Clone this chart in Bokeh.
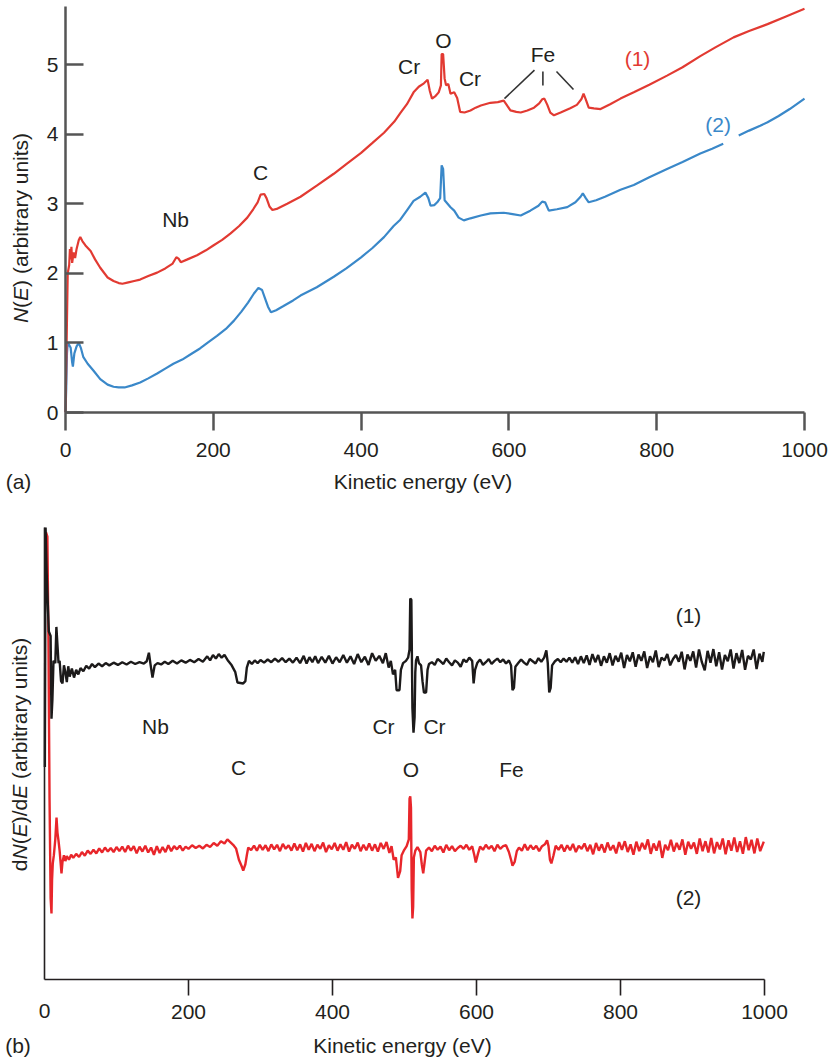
import numpy as np
from bokeh.plotting import figure
from bokeh.models import Range1d, FixedTicker, Label, LinearAxis
from bokeh.embed import file_html
from bokeh.resources import INLINE

# ---------------- data: panel (a) N(E) spectra ----------------
spec1_points = [(0,0.0),(1.5,1.0),(3,2.0),(5,2.12),(6,2.35),(7,2.2),(8,2.38),(9,2.15),(11,2.3),(13,2.22),
    (15,2.35),(18,2.48),(20,2.52),(23,2.46),(27,2.4),(34,2.32),(40,2.2),(47,2.08),(57,1.94),(65,1.89),
    (72,1.86),(77,1.85),(85,1.87),(93,1.89),(101,1.91),(112,1.96),(124,2.01),(135,2.07),(145,2.14),(150,2.23),
    (153,2.21),(156,2.16),(165,2.2),(178,2.26),(190,2.33),(200,2.4),(212,2.48),(223,2.57),(235,2.68),(246,2.8),
    (254,2.92),(260,3.02),(264,3.13),(269,3.14),(272,3.08),(276,2.96),(280,2.91),(287,2.93),(300,3.0),(318,3.1),
    (340,3.26),(363,3.43),(380,3.57),(400,3.73),(415,3.87),(431,4.02),(445,4.18),(453,4.3),(462,4.43),(471,4.6),
    (478,4.68),(485,4.73),(490,4.78),(493,4.62),(496,4.51),(501,4.55),(505,4.6),(508,4.7),(509,5.15),(511,5.15),
    (513,4.8),(515,4.7),(518,4.72),(521,4.58),(526,4.6),(530,4.52),(534,4.32),(540,4.31),(548,4.34),(555,4.38),
    (562,4.41),(575,4.45),(585,4.46),(593,4.48),(597,4.42),(602,4.34),(610,4.32),(616,4.31),(625,4.34),(634,4.38),
    (641,4.44),(645,4.5),(648,4.51),(652,4.42),(656,4.31),(661,4.27),(670,4.31),(683,4.37),(692,4.42),(698,4.5),
    (701,4.58),(704,4.5),(708,4.38),(715,4.37),(724,4.36),(737,4.43),(751,4.51),(769,4.6),(790,4.71),(814,4.84),
    (835,4.96),(859,5.12),(880,5.25),(904,5.39),(925,5.48),(950,5.58),(975,5.69),(1000,5.8)]

spec2_points = [(0,0.0),(1,0.35),(2,0.85),(3,1.0),(5,0.97),(7,0.93),(9,0.72),(10,0.66),(12,0.85),(15,0.95),
    (18,1.0),(21,0.92),(24,0.8),(30,0.7),(38,0.6),(47,0.48),(57,0.4),(65,0.37),(72,0.36),(80,0.36),
    (90,0.39),(101,0.43),(112,0.49),(124,0.56),(135,0.63),(146,0.7),(158,0.76),(170,0.84),(182,0.92),(192,1.0),
    (205,1.1),(217,1.2),(228,1.32),(238,1.45),(247,1.58),(255,1.71),(261,1.79),(266,1.76),(270,1.64),(274,1.52),
    (278,1.44),(285,1.47),(295,1.53),(308,1.61),(318,1.68),(340,1.8),(363,1.95),(380,2.07),(400,2.23),(415,2.36),
    (431,2.52),(444,2.68),(453,2.77),(463,2.92),(471,3.04),(480,3.1),(487,3.16),(491,3.08),(494,2.97),(499,2.98),
    (503,3.02),(507,3.08),(509,3.55),(511,3.5),(513,3.05),(517,3.0),(521,2.95),(526,2.9),(532,2.8),(539,2.76),
    (548,2.79),(562,2.83),(575,2.86),(593,2.87),(605,2.85),(616,2.83),(629,2.9),(640,2.97),(645,3.03),(649,3.02),
    (654,2.9),(665,2.92),(679,2.95),(690,3.02),(697,3.1),(700,3.15),(704,3.08),(708,3.02),(718,3.05),(730,3.1),
    (751,3.2),(769,3.27),(790,3.38),(814,3.5),(835,3.6),(859,3.72),(875,3.79),(890,3.86),(900,float("nan")),
    (911,3.98),(925,4.05),(940,4.12),(950,4.17),(965,4.26),(980,4.36),(1000,4.51)]

# ---------------- data: panel (b) dN(E)/dE spectra (arbitrary units) ----------------
deriv1_points = [(0.5,47),(1.5,100),(3,90),(6,77),(8.5,76),(9.7,57.7),(11,62),(12.5,70.5),(15,70),(16.5,78),
    (18,74),(19.5,70),(21,70.5),(23,66),(25,65.5),(27,69.5),(29,68),(31,65.8),(33,69.3),(35,67),(38,68.8),
    (41,66.8),(44,68.5),(47,67.5),(50,68.9),(54,68.2),(58,69.4),(62,68.8),(66,69.8),(70,69.1),(75,69.9),(80,69.3),
    (85,70),(90,69.5),(96,70.1),(102,69.6),(108,70.2),(114,69.7),(120,70.3),(126,69.8),(132,70.2),(138,69.9),
    (142,70.4),(145,72.3),(147,70),(150,66.8),(153,69.5),(157,70),(162,69.7),(167,70.3),(172,69.8),(178,70.5),
    (184,69.9),(190,70.6),(196,70.1),(202,70.7),(208,70.2),(214,70.9),(220,70.3),(226,71.5),(230,70.6),(234,71.8),
    (238,71),(242,72),(246,71.2),(250,71.8),(255,70.5),(260,69.5),(265,68),(268,65.7),(272,65.6),(276,65.5),
    (279,66),(281,69),(284,70.5),(288,69.8),(292,70.6),(296,70),(300,70.7),(305,70.1),(310,70.8),(315,70.2),
    (320,71),(325,70.3),(330,71.1),(335,70.2),(340,71),(345,70.1),(350,71.2),(355,70),(360,71.6),(364,69.9),
    (368,71.3),(372,70.2),(376,71.5),(380,70),(385,71.4),(390,70.1),(395,71.6),(400,69.9),(405,71.3),(410,70.2),
    (415,71.8),(420,70.1),(425,71.5),(430,69.8),(435,72),(440,70.2),(445,71.4),(450,69.6),(455,72.2),(460,70.5),
    (465,71.6),(470,70),(474,72.2),(478,69),(481,70.5),(484,67.5),(487,68.5),(489,64),(493,64),(495,68.5),
    (498,70),(502,70.5),(505,71.2),(507,73),(508,84.3),(509.5,84),(511,60),(512.5,54.6),(514,58),(515,68),
    (516,70.6),(518,71.5),(520,70),(523,69.5),(525,66),(527,63.5),(530,63.5),(532,68.5),(534,69.8),(538,70.2),
    (542,69.6),(546,70.9),(550,70.4),(554,69.8),(558,71),(562,70.2),(566,69.5),(570,70.6),(574,70.1),(578,69.2),
    (582,70.8),(586,70.2),(590,71.2),(594,70.5),(596,65.5),(598,68.5),(601,70),(605,70.8),(609,69.6),(613,70.2),
    (617,70.9),(621,69.8),(625,70.5),(629,71),(633,70.2),(637,70.8),(641,69.9),(645,70.6),(648,69.5),(650,64),
    (652,64.5),(654,69.2),(658,70),(662,70.8),(666,70.1),(670,69.6),(674,70.9),(678,70.4),(682,69.9),(686,71.1),
    (690,70.3),(694,71.2),(697,72.8),(699,70),(701,63.5),(703,64.5),(705,69.5),(709,70.4),(713,70.9),(717,70.2),
    (721,71),(725,70.3),(729,71.2),(733,70.1),(737,71.3),(741,69.8),(745,71.5),(749,70),(753,71.7),(757,69.6),
    (761,72),(765,70.2),(769,71.8),(773,69.4),(777,71.5),(781,70.1),(785,72.2),(789,69.5),(793,71.6),(797,70.3),
    (801,72.3),(805,68.9),(809,71.8),(813,70.4),(817,72.4),(821,69.2),(825,71.9),(829,70.5),(833,72.6),(837,68.9),
    (841,71.5),(845,70.2),(849,72.8),(853,69.1),(857,71.2),(861,70.6),(865,72),(869,69.5),(873,70.9),(877,71.8),
    (881,70.3),(885,72.5),(889,68.6),(893,71.9),(897,70.5),(901,72.6),(905,69),(909,73),(913,70.2),(917,68.4),
    (921,72.7),(925,70.1),(929,73.1),(933,69.3),(937,72.4),(941,68.6),(945,71.8),(949,70.4),(953,73),(957,68.8),
    (961,72.2),(965,70),(969,72.9),(973,68.5),(977,71.6),(981,70.8),(985,73),(989,68.7),(993,72.1),(997,70.3),
    (999,72.5)]

deriv2_points = [(2,99),(4,98),(5.5,75),(7,40),(8.5,18),(9.7,14.6),(10.5,22),(11.5,25.7),(13,27.5),(15,31),
    (16.7,35.8),(18,32.5),(19.4,30.8),(21,28.5),(23.6,23.5),(25,26),(27,27.5),(29,26.2),(31,27.3),(34,26.5),
    (37,27.6),(40,26.9),(44,27.8),(48,27.1),(52,28.2),(56,27.4),(60,28.5),(64,27.8),(68,28.7),(72,27.9),(76,29),
    (80,28.1),(84,29.2),(88,28.3),(92,29.1),(96,28.2),(100,29.3),(104,28.4),(108,29.4),(112,28.2),(116,29.6),
    (120,28.5),(124,29.5),(128,27.9),(132,29.4),(136,28.3),(140,29.6),(144,28.1),(148,29.2),(152,27.6),(156,29.5),
    (160,28),(164,29.3),(168,28.2),(172,29.7),(176,28.4),(180,29.5),(184,28.8),(188,29.6),(192,28.5),(196,29.4),
    (200,28.9),(205,29.7),(210,29.1),(215,29.6),(220,29),(225,29.8),(230,29.3),(235,30.2),(240,29.6),(245,30.6),
    (250,30.1),(254,31),(258,30.4),(262,29.8),(266,29),(270,26.5),(274,25),(276,24.1),(279,25.5),(281,27.5),
    (283,29.2),(287,28.6),(291,29.6),(295,28.5),(299,29.8),(303,28.7),(307,29.7),(311,28.4),(315,29.9),(319,28.8),
    (323,29.8),(327,28.4),(331,30),(335,28.9),(339,29.7),(343,28.5),(347,30.1),(351,28.6),(355,29.9),(359,28.3),
    (363,30.2),(367,28.7),(371,30),(375,28.4),(379,29.8),(383,28.9),(387,30.3),(391,28.2),(395,29.7),(399,28.8),
    (403,30.2),(407,28.5),(411,29.9),(415,28.7),(419,30.4),(423,28.3),(427,29.8),(431,28.9),(435,30.3),(439,28.4),
    (443,29.8),(447,28.6),(451,30.1),(455,28.5),(459,29.9),(463,28.3),(467,30.2),(471,28.9),(475,30.4),(479,28),
    (482,29.5),(485,26.5),(488,27),(491,22.5),(494,24),(496,27.5),(499,28.5),(503,29.5),(506,31),(507,40),
    (508,40.5),(509,38),(510,20),(511,13.5),(512,16),(513,27),(515,28.5),(518,29.3),(522,28.2),(524,25.5),
    (526,23.5),(528,26),(530,28.5),(534,29.2),(538,28.4),(542,29.6),(546,28.7),(550,29.4),(554,28.1),(558,29.8),
    (562,28.6),(566,29.5),(570,28.4),(574,29.1),(578,29.6),(582,28.9),(586,29.8),(590,28.7),(594,29.5),(597,27.5),
    (599,25.9),(602,27.8),(605,29.4),(609,28.7),(613,29.8),(617,28.9),(621,29.6),(625,28.4),(629,29.8),(633,28.9),
    (637,29.5),(641,29.7),(645,28.2),(648,26.5),(650,25.2),(653,26),(656,28.4),(659,29.2),(663,28.5),(667,29.9),
    (671,28.6),(675,29.7),(679,28.8),(683,29.6),(687,28.4),(691,29.5),(695,29.9),(698,30.8),(700,29.5),(702,26.5),
    (704,25.7),(707,27.5),(710,29.6),(714,28.7),(718,29.8),(722,28.3),(726,29.7),(730,28.6),(734,30),(738,28.2),
    (742,29.6),(746,28.9),(750,30.1),(754,28.4),(758,29.8),(762,27.7),(766,30.2),(770,28.5),(774,29.9),(778,28.1),
    (782,30.3),(786,28.6),(790,29.7),(794,27.9),(798,30.4),(802,28.7),(806,30.6),(810,28.2),(814,29.9),(818,27.6),
    (822,30.5),(826,28.4),(830,30.2),(834,28.8),(838,31),(842,27.8),(846,30.1),(850,28.5),(854,30.7),(858,26.9),
    (862,29.8),(866,28.6),(870,30.9),(874,28.3),(878,30.2),(882,28.7),(886,31),(890,27.6),(894,30.5),(898,28.9),
    (902,30.3),(906,27.8),(910,31.2),(914,28.4),(918,30.6),(922,28.1),(926,31.3),(930,27.9),(934,30.4),(938,28.8),
    (942,31.2),(946,27.7),(950,30.8),(954,28.5),(958,31.4),(962,28.2),(966,30.6),(970,27.8),(974,31.5),(978,28.6),
    (982,30.9),(986,27.9),(990,31.2),(994,28.4),(999,30.5)]

x_ticks = [0, 200, 400, 600, 800, 1000]
y_ticks_a = [0, 1, 2, 3, 4, 5]

# element annotations (text, energy, value)
labels_a = [("Nb", 149, 2.77), ("C", 264, 3.45), ("Cr", 465, 4.97), ("O", 511.5, 5.34),
            ("Cr", 547.4, 4.80), ("Fe", 646, 5.15)]
fe_leaders = [((634.6, 4.92), (594.0, 4.51)), ((646.0, 4.90), (646.0, 4.70)), ((664.4, 4.90), (687.4, 4.64))]
labels_b = [("Nb", 154.2, 56.0), ("C", 269.4, 46.9), ("Cr", 470.8, 56.0), ("Cr", 541.7, 56.0),
            ("O", 509, 46.5), ("Fe", 648.6, 46.5)]

FONT = "Liberation Sans"
FS = "21px"
TXT = "#231f20"
RED_A = "#e23a32"
BLUE_A = "#3a88c9"
RED_B = "#e8262b"
BLACK_B = "#1c1a1a"

W, H = 833, 1060
# page-pixel <-> data mappings of the two panels
ax_px = lambda px: (px - 65) / 0.739
ay_px = lambda py: (412 - py) / 69.6
bx_px = lambda px: (px - 44) / 0.72
by_px = lambda py: (979 - py) / 4.52

# Arial/Liberation Sans advance widths (per 1000 em) for placing mixed-style pieces
CW = {"N": 722, "E": 667, "(": 333, ")": 333, " ": 278, "a": 556, "r": 333, "b": 556, "i": 222,
      "t": 278, "y": 500, "u": 556, "n": 556, "s": 500, "d": 556, "/": 278}
def text_w(s, px=21.0):
    return sum(CW[c] for c in s) * px / 1000.0

def unzip(points):
    return np.array([p[0] for p in points], float), np.array([p[1] for p in points], float)

p = figure(width=W, height=H, output_backend="svg", toolbar_location=None,
           x_range=Range1d(ax_px(0), ax_px(W)), y_range=Range1d(ay_px(H), ay_px(0)),
           x_axis_location=None, y_axis_location=None,
           min_border=0, min_border_left=0, min_border_right=0, min_border_top=0, min_border_bottom=0)
p.extra_x_ranges = {"b": Range1d(bx_px(0), bx_px(W))}
p.extra_y_ranges = {"b": Range1d(by_px(H), by_px(0))}
p.outline_line_color = None
p.grid.visible = False
p.background_fill_color = "white"
p.border_fill_color = "white"

def add_label(x, y, text, color=TXT, style="normal", angle=0.0, align="center", baseline="middle", rn="default"):
    p.add_layout(Label(x=x, y=y, text=text, text_font=FONT, text_font_size=FS, text_color=color,
                       text_font_style=style, angle=angle, text_align=align, text_baseline=baseline,
                       x_range_name=rn, y_range_name=rn))

def rotated_title(pieces, x, center_py, to_y, rn):
    # pieces placed one after another, reading bottom to top
    sy = center_py + sum(text_w(s) for s, _ in pieces) / 2
    for s, st in pieces:
        lead = len(s) - len(s.lstrip(" "))
        sy -= text_w(" " * lead)
        body = s.strip(" ")
        add_label(x, to_y(sy), body, style=st, angle=np.pi / 2, align="left", rn=rn)
        sy -= text_w(body)

def style_axis(ax, color, width):
    ax.axis_line_color = color
    ax.axis_line_width = width
    ax.major_tick_line_color = color
    ax.major_tick_line_width = width
    ax.minor_tick_line_color = None
    ax.minor_tick_out = 0
    ax.minor_tick_in = 0
    ax.major_label_text_font = FONT
    ax.major_label_text_font_size = FS
    ax.major_label_text_color = TXT

# ---------------- panel (a) axes ----------------
xa = LinearAxis(fixed_location=0, bounds=(0, 1000), ticker=FixedTicker(ticks=x_ticks))
style_axis(xa, "#555555", 2.5)
xa.major_tick_out = 18
xa.major_tick_in = 0
xa.major_label_standoff = 12
p.add_layout(xa, "below")

ya = LinearAxis(fixed_location=0, bounds=(0, ay_px(6)), ticker=FixedTicker(ticks=y_ticks_a))
style_axis(ya, "#555555", 2.5)
ya.major_tick_out = 0
ya.major_tick_in = 18
ya.major_label_standoff = 7
p.add_layout(ya, "left")

# ---------------- panel (a) curves ----------------
e1, n1 = unzip(spec1_points)
e2, n2 = unzip(spec2_points)
p.line(e2, n2, line_color=BLUE_A, line_width=2.2)
p.line(e1, n1, line_color=RED_A, line_width=2.2)

for t, x, y in labels_a:
    add_label(x, y, t)
p.segment(x0=[s[0][0] for s in fe_leaders], y0=[s[0][1] for s in fe_leaders],
          x1=[s[1][0] for s in fe_leaders], y1=[s[1][1] for s in fe_leaders],
          line_color="#333333", line_width=1.6)
add_label(774, 5.09, "(1)", color=RED_A)
add_label(883, 4.14, "(2)", color=BLUE_A)

add_label(ax_px(422.5), ay_px(480.5), "Kinetic energy (eV)")
add_label(ax_px(18), ay_px(481), "(a)")
rotated_title([("N", "italic"), ("(", "normal"), ("E", "italic"), (") (arbitrary units)", "normal")],
              ax_px(20), 227.5, ay_px, "default")

# ---------------- panel (b) axes ----------------
xb = LinearAxis(x_range_name="b", y_range_name="b", fixed_location=0, bounds=(0, 1000),
                ticker=FixedTicker(ticks=x_ticks[1:]))
style_axis(xb, "#231f20", 1.6)
xb.major_tick_out = 16
xb.major_tick_in = 0
xb.major_label_standoff = 9
p.add_layout(xb, "below")

yb = LinearAxis(x_range_name="b", y_range_name="b", fixed_location=0, bounds=(0, 100),
                ticker=FixedTicker(ticks=[]))
style_axis(yb, "#231f20", 1.6)
yb.major_tick_out = 0
yb.major_tick_in = 0
p.add_layout(yb, "left")

# ---------------- panel (b) curves ----------------
d1e, d1y = unzip(deriv1_points)
d2e, d2y = unzip(deriv2_points)
p.line(d2e, d2y, line_color=RED_B, line_width=2.4, x_range_name="b", y_range_name="b")
p.line(d1e, d1y, line_color=BLACK_B, line_width=2.4, x_range_name="b", y_range_name="b")

for t, x, y in labels_b:
    add_label(x, y, t, rn="b")
add_label(894.4, 80.5, "(1)", rn="b")
add_label(894.4, 18.1, "(2)", rn="b")

add_label(x_ticks[0], by_px(1010), str(x_ticks[0]), rn="b")
add_label(bx_px(402), by_px(1044.5), "Kinetic energy (eV)", rn="b")
add_label(bx_px(17.5), by_px(1045), "(b)", rn="b")
rotated_title([("d", "normal"), ("N", "italic"), ("(", "normal"), ("E", "italic"), (")/d", "normal"),
               ("E", "italic"), (" (arbitrary units)", "normal")],
              bx_px(19), 754, by_px, "b")

with open("out.html", "w") as f:
    f.write(file_html(p, INLINE))
